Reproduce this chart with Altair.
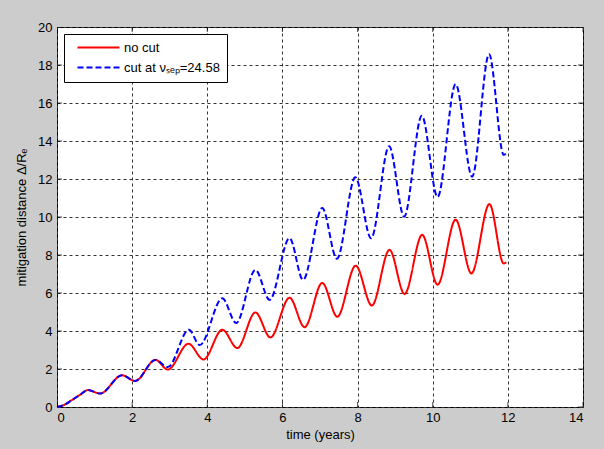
import altair as alt
import pandas as pd

# ---- data ----
t_nocut = [0, 0.2, 0.4, 0.62, 0.82, 1.15, 1.73, 2.08, 2.62, 2.95, 3.5, 3.9, 4.4, 4.8,
           5.28, 5.68, 6.19, 6.59, 7.06, 7.46, 7.95, 8.38, 8.85, 9.25, 9.72, 10.13,
           10.61, 11.03, 11.51, 11.89, 11.96]
v_nocut = [0, 0.12, 0.37, 0.65, 0.89, 0.71, 1.67, 1.37, 2.48, 1.97, 3.33, 2.5, 4.07, 3.1,
           4.98, 3.66, 5.75, 4.2, 6.53, 4.75, 7.44, 5.34, 8.27, 5.95, 9.06, 6.44,
           9.86, 7.03, 10.68, 7.55, 7.62]

t_cut = [0, 0.2, 0.4, 0.62, 0.82, 1.15, 1.73, 2.08, 2.62, 2.95, 3.51, 3.8, 4.4, 4.77,
         5.28, 5.66, 6.19, 6.55, 7.06, 7.45, 7.94, 8.36, 8.84, 9.24, 9.71, 10.13,
         10.61, 11.05, 11.5, 11.89, 11.96]
v_cut = [0, 0.12, 0.37, 0.65, 0.89, 0.71, 1.67, 1.37, 2.48, 2.1, 4.07, 3.26, 5.72, 4.42,
         7.22, 5.64, 8.89, 6.69, 10.47, 7.8, 12.09, 8.88, 13.72, 10.02, 15.33, 11.05,
         16.99, 12.12, 18.57, 13.27, 13.37]

series_names = ["no cut", "cut at νₛₑₚ=24.58"]
series_colors = ["#ff0000", "#0000ff"]
series_dashes = [[1, 0], [6, 3]]
x_ticks = [0, 2, 4, 6, 8, 10, 12, 14]
y_ticks = [0, 2, 4, 6, 8, 10, 12, 14, 16, 18, 20]

df_nocut = pd.DataFrame({"t": t_nocut, "v": v_nocut, "series": series_names[0]})
df_cut = pd.DataFrame({"t": t_cut, "v": v_cut, "series": series_names[1]})

W, H = 526, 380
FONT = "Liberation Sans"

xscale = alt.Scale(domain=[0, 14], nice=False, zero=False)
yscale = alt.Scale(domain=[0, 20], nice=False, zero=False)

x_axis = alt.Axis(values=x_ticks, tickCount=8, title="time (years)", labelPadding=4,
                  titlePadding=4, labelOverlap=False)
y_axis = alt.Axis(values=y_ticks, tickCount=11, title="mitigation distance Δ/Rₑ",
                  labelPadding=5, titlePadding=9, labelOverlap=False)
x_enc = alt.X("t:Q", scale=xscale, axis=x_axis)
y_enc = alt.Y("v:Q", scale=yscale, axis=y_axis)

legend = alt.Legend(title=None, orient="top-left", offset=7, padding=7,
                    fillColor="white", strokeColor="black", cornerRadius=0,
                    symbolType="M0,0H8.4", symbolSize=100, symbolStrokeWidth=2,
                    labelOffset=40, labelFont=FONT, labelFontSize=13,
                    labelColor="black", rowPadding=6, labelLimit=300)

color_enc = alt.Color("series:N",
                      scale=alt.Scale(domain=series_names, range=series_colors),
                      legend=legend)
dash_enc = alt.StrokeDash("series:N",
                          scale=alt.Scale(domain=series_names, range=series_dashes),
                          legend=legend)

red = alt.Chart(df_nocut).mark_line(interpolate="monotone", strokeWidth=2).encode(
    x=x_enc, y=y_enc, color=color_enc, strokeDash=dash_enc)
blue = alt.Chart(df_cut).mark_line(interpolate="monotone", strokeWidth=2).encode(
    x=x_enc, y=y_enc, color=color_enc, strokeDash=dash_enc)

ydf = pd.DataFrame({"v": y_ticks})
xdf = pd.DataFrame({"t": x_ticks})
tick_h = alt.Chart(ydf).mark_tick(orient="horizontal", size=10, thickness=1,
                                  color="black", clip=True)
tick_v = alt.Chart(xdf).mark_tick(orient="vertical", size=10, thickness=1,
                                  color="black", clip=True)
left_ticks = tick_h.encode(y=y_enc, x=alt.value(0))
right_ticks = tick_h.encode(y=y_enc, x=alt.value(W))
bottom_ticks = tick_v.encode(x=x_enc, y=alt.value(H))
top_ticks = tick_v.encode(x=x_enc, y=alt.value(0))

chart = alt.layer(red, blue, left_ticks, right_ticks, bottom_ticks, top_ticks).properties(
    width=W, height=H,
    padding={"left": 57, "top": 27, "right": 21, "bottom": 42},
    autosize=alt.AutoSizeParams(type="none"),
    background="#cccccc",
).configure_view(
    stroke="black", strokeWidth=1, fill="white"
).configure_axis(
    labelFont=FONT, labelFontSize=13, labelColor="black",
    titleFont=FONT, titleFontSize=13, titleFontWeight="normal", titleColor="black",
    domain=False, ticks=False,
    grid=True, gridColor="#333333", gridDash=[3, 3], gridWidth=1, gridOpacity=1,
)

chart.save("out.html", embed_options={"renderer": "svg", "actions": False})
